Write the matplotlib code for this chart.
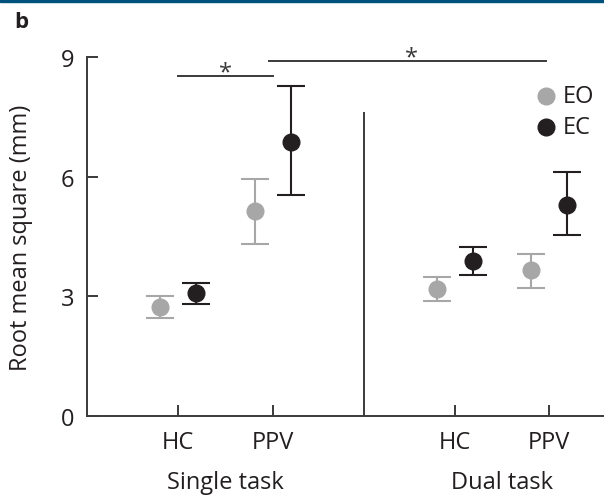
import matplotlib
matplotlib.use("Agg")
import matplotlib.pyplot as plt
from matplotlib.patches import Rectangle

plt.rcParams["font.family"] = ["Open Sans", "DejaVu Sans"]

# x positions of the groups (HC, PPV for single task; HC, PPV for dual task)
positions = [1.0, 2.0, 3.916, 4.905]
tick_labels = ["HC", "PPV", "HC", "PPV"]
group_labels = ["Single task", "Dual task"]
divider_x = 2.958
offset = 0.19

# means and error bounds
eo_mean = [2.73, 5.13, 3.18, 3.65]
eo_low = [2.45, 4.30, 2.88, 3.20]
eo_high = [3.00, 5.95, 3.48, 4.07]

ec_mean = [3.08, 6.88, 3.88, 5.29]
ec_low = [2.80, 5.53, 3.53, 4.54]
ec_high = [3.33, 8.28, 4.23, 6.12]

grey = "#a7a7a7"
black = "#231f20"
axis_col = "#3a3a3a"

fig = plt.figure(figsize=(6.04, 5.02), dpi=100)
ax = fig.add_axes([87 / 604, 85 / 502, 517 / 604, 359 / 502])

# top banner
fig.patches.append(Rectangle((0, 1 - 3 / 502), 1, 3 / 502, transform=fig.transFigure,
                             color="#00527d", zorder=10))
fig.text(14 / 604, 1 - 22 / 502, "b", fontsize=16, fontweight="bold", va="center",
         ha="left", color=black)

for means, lows, highs, col, sign in [(eo_mean, eo_low, eo_high, grey, -1),
                                      (ec_mean, ec_low, ec_high, black, 1)]:
    xs = [p + sign * offset for p in positions]
    yerr = [[m - l for m, l in zip(means, lows)], [h - m for m, h in zip(means, highs)]]
    ax.errorbar(xs, means, yerr=yerr, fmt="o", color=col, ms=12, elinewidth=1.5,
                capsize=10, capthick=1.5, zorder=3)

# legend (drawn as points + text)
ax.plot([4.874], [8.03], "o", color=grey, ms=12, clip_on=False)
ax.plot([4.874], [7.25], "o", color=black, ms=12, clip_on=False)
ax.text(5.05, 8.03, "EO", fontsize=17, va="center", ha="left", color=black)
ax.text(5.05, 7.25, "EC", fontsize=17, va="center", ha="left", color=black)

# divider between tasks
ax.plot([divider_x, divider_x], [0, 7.6], color=axis_col, lw=1.4, zorder=2)

# significance bars
ax.plot([positions[0], positions[1]], [8.53, 8.53], color=axis_col, lw=1.4, clip_on=False)
ax.text((positions[0] + positions[1]) / 2, 8.62, "*", fontsize=17, ha="center", va="center",
        color=axis_col)
ax.plot([positions[1] - 0.04, positions[3] - 0.03], [8.9, 8.9], color=axis_col, lw=1.4,
        clip_on=False)
ax.text((positions[1] + positions[3]) / 2, 8.99, "*", fontsize=17, ha="center", va="center",
        color=axis_col, clip_on=False)

ax.set_xlim(0.042, 5.484)
ax.set_ylim(0, 9)
ax.set_xticks(positions)
ax.set_xticklabels(tick_labels)
ax.set_yticks([0, 3, 6, 9])
ax.tick_params(axis="both", direction="in", length=8, width=1.4, color=axis_col,
               labelsize=17, labelcolor=black)
ax.tick_params(axis="x", pad=10)
ax.tick_params(axis="y", pad=9)

for side in ["top", "right"]:
    ax.spines[side].set_visible(False)
for side in ["left", "bottom"]:
    ax.spines[side].set_linewidth(1.4)
    ax.spines[side].set_color(axis_col)

ax.text((positions[0] + positions[1]) / 2, -0.185, group_labels[0], fontsize=17, ha="center",
        va="center", color=black, transform=ax.get_xaxis_transform())
ax.text((positions[2] + positions[3]) / 2, -0.185, group_labels[1], fontsize=17, ha="center",
        va="center", color=black, transform=ax.get_xaxis_transform())

ax.set_ylabel("Root mean square (mm)", fontsize=17, color=black)
ax.yaxis.set_label_coords(-0.104, 0.5)

fig.savefig("out.png", dpi=100)
